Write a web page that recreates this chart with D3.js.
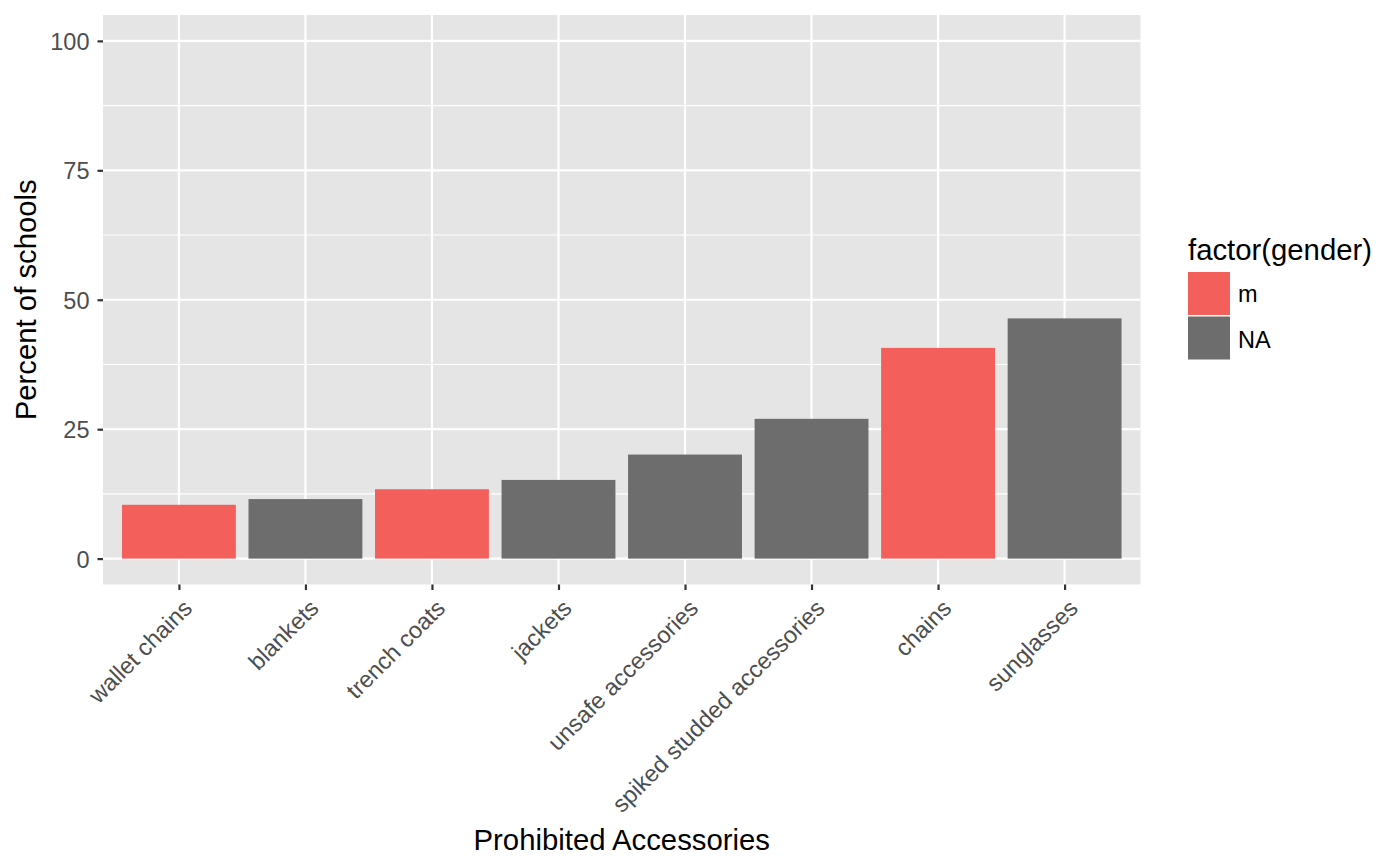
<!doctype html>
<html>
    <head>
        <script src="https://d3js.org/d3.v7.min.js"></script>
        <style>
            body,
            html {
                margin: 0;
                padding: 0;
                overflow: hidden;
                background: #fff;
            }
            text {
                font-family: "Liberation Sans", Arial, sans-serif;
            }
        </style>
    </head>
    <body>
        <script>
            // data
            const accessories = [
                "wallet chains",
                "blankets",
                "trench coats",
                "jackets",
                "unsafe accessories",
                "spiked studded accessories",
                "chains",
                "sunglasses",
            ];
            const percents = [10.4, 11.5, 13.4, 15.2, 20.1, 27.0, 40.7, 46.4];
            const genders = ["m", "NA", "m", "NA", "NA", "NA", "m", "NA"];
            const genderLevels = ["m", "NA"];
            const yTicks = [0, 25, 50, 75, 100];
            const yMinor = [12.5, 37.5, 62.5, 87.5];

            const width = 1400;
            const height = 865;
            const panel = { left: 103, right: 1140.5, top: 15, bottom: 584.5 };
            const tickFont = "23.5px";
            const titleFont = "29.3px";

            const svg = d3
                .create("svg")
                .attr("width", width)
                .attr("height", height)
                .attr("viewBox", [0, 0, width, height]);

            const y = d3
                .scaleLinear()
                .domain([-5, 105])
                .range([panel.bottom, panel.top]);

            // ggplot discrete scale: 0.6 unit expansion on each side
            const step = (panel.right - panel.left) / (accessories.length - 1 + 1.2);
            const x = d3
                .scalePoint()
                .domain(accessories)
                .range([panel.left + 0.6 * step, panel.right - 0.6 * step]);
            const barWidth = 0.9 * step;

            const color = d3
                .scaleOrdinal()
                .domain(genderLevels)
                .range(["#F35F5B", "#6D6D6D"]);

            // panel background
            svg.append("rect")
                .attr("x", panel.left)
                .attr("y", panel.top)
                .attr("width", panel.right - panel.left)
                .attr("height", panel.bottom - panel.top)
                .attr("fill", "#E5E5E5");

            const grid = svg.append("g").attr("stroke", "#fff");

            grid.selectAll("line.minor")
                .data(yMinor)
                .join("line")
                .attr("class", "minor")
                .attr("x1", panel.left)
                .attr("x2", panel.right)
                .attr("y1", (d) => y(d))
                .attr("y2", (d) => y(d))
                .attr("stroke-width", 1.1);

            grid.selectAll("line.major")
                .data(yTicks)
                .join("line")
                .attr("class", "major")
                .attr("x1", panel.left)
                .attr("x2", panel.right)
                .attr("y1", (d) => y(d))
                .attr("y2", (d) => y(d))
                .attr("stroke-width", 2.2);

            grid.selectAll("line.vmajor")
                .data(accessories)
                .join("line")
                .attr("class", "vmajor")
                .attr("x1", (d) => x(d))
                .attr("x2", (d) => x(d))
                .attr("y1", panel.top)
                .attr("y2", panel.bottom)
                .attr("stroke-width", 2.2);

            // bars
            svg.append("g")
                .selectAll("rect")
                .data(accessories)
                .join("rect")
                .attr("x", (d) => x(d) - barWidth / 2)
                .attr("width", barWidth)
                .attr("y", (d, i) => y(percents[i]))
                .attr("height", (d, i) => y(0) - y(percents[i]))
                .attr("fill", (d, i) => color(genders[i]));

            // y axis
            const yAxis = svg
                .append("g")
                .attr("transform", `translate(${panel.left},0)`)
                .call(d3.axisLeft(y).tickValues(yTicks).tickSize(5.5).tickPadding(8));
            yAxis.select(".domain").remove();
            yAxis.selectAll(".tick line").attr("stroke", "#333").attr("stroke-width", 2.2);
            yAxis.selectAll(".tick text")
                .attr("fill", "#4D4D4D")
                .attr("dy", "0.36em")
                .style("font-size", tickFont)
                .style("font-family", '"Liberation Sans", Arial, sans-serif');

            // x axis, labels at 45 degrees with their top right corner on the tick
            const xAxis = svg
                .append("g")
                .attr("transform", `translate(0,${panel.bottom})`)
                .call(d3.axisBottom(x).tickSize(5.5).tickPadding(0));
            xAxis.select(".domain").remove();
            xAxis.selectAll(".tick line").attr("stroke", "#333").attr("stroke-width", 2.2);
            xAxis.selectAll(".tick text")
                .attr("fill", "#4D4D4D")
                .attr("y", 0)
                .attr("dy", 0)
                .attr("text-anchor", "end")
                .attr("transform", "translate(0,11) rotate(-45) translate(0,20)")
                .style("font-size", tickFont)
                .style("font-family", '"Liberation Sans", Arial, sans-serif');

            // axis titles
            svg.append("text")
                .attr("x", (panel.left + panel.right) / 2)
                .attr("y", 850)
                .attr("text-anchor", "middle")
                .style("font-size", titleFont)
                .text("Prohibited Accessories");

            svg.append("text")
                .attr("transform", `translate(36,${(panel.top + panel.bottom) / 2}) rotate(-90)`)
                .attr("text-anchor", "middle")
                .style("font-size", titleFont)
                .text("Percent of schools");

            // legend
            const legend = svg.append("g").attr("transform", "translate(1188,0)");
            legend.append("text")
                .attr("x", 0)
                .attr("y", 260)
                .style("font-size", titleFont)
                .text("factor(gender)");

            legend.selectAll("rect")
                .data(genderLevels)
                .join("rect")
                .attr("x", 0)
                .attr("y", (d, i) => 272 + i * 44.5)
                .attr("width", 42)
                .attr("height", 43)
                .attr("fill", (d) => color(d));

            legend.selectAll("text.lab")
                .data(genderLevels)
                .join("text")
                .attr("class", "lab")
                .attr("x", 50)
                .attr("y", (d, i) => 302 + i * 46)
                .style("font-size", tickFont)
                .text((d) => d);

            document.body.appendChild(svg.node());
        </script>
    </body>
</html>
